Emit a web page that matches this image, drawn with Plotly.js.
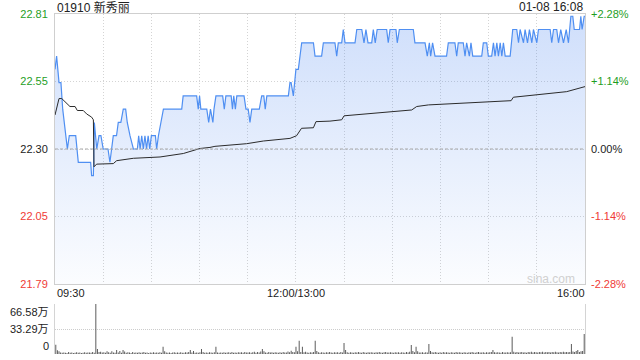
<!DOCTYPE html>
<html>
<head>
<meta charset="utf-8">
<script src="https://cdn.plot.ly/plotly-3.0.1.min.js"></script>
<style>html,body{margin:0;padding:0;background:#fff;}#chart{width:640px;height:360px;}</style>
</head>
<body>
<div id="chart"></div>
<script>
// ---- data ----
const stockTitle = "01910 新秀丽";
const stamp = "01-08 16:08";
const prevClose = 22.30;
const maxPct = 2.28;

// minute index (0 = 09:30, 150 = 12:00/13:00, 330 = 16:00) and last price
const priceMin = [0,1,2.5,3.7,4.8,6.6,7.7,8.9,12.9,14.5,22.2,22.8,23.9,24.5,26,27.4,28.6,30,33,34.2,35.2,36.3,38.3,39.4,41,42.5,44,45,46.7,48.8,51.3,52.1,53,54,55,56,57,58,59,60,62.5,63.3,64.4,65.8,67.5,78.9,79.8,88.2,89.2,90,90.8,94.5,95.7,96.8,98.3,99,100.2,104.4,105.4,106.4,109.7,110.5,111.3,112.3,113.2,117.7,118.9,120.3,121.4,122.5,127.2,128.7,130,130.9,131.9,145.3,146.3,147,148.4,150,151.5,153.6,160.9,161.9,166,167.1,174.3,175.4,176.4,178.5,179.5,180.6,186.8,187.9,191,192.4,193.6,194.9,197.2,198.2,199.4,200.6,206.5,207.5,208.6,212.3,213.1,214.4,223.1,224.1,230.4,231.8,233.1,233.9,235.1,236.6,243.8,244.9,249,250.1,251.1,254.2,255.3,256.3,258,259,260.1,265.7,266.7,268.8,269.8,271.9,273,274,275.1,276.1,277.2,278.2,279.2,280.3,283.4,285,287.5,288.6,289.6,291.7,292.7,294.2,295.4,296.9,297.9,300,301,308.3,309.3,310.4,312.4,313.5,314.9,316.6,318.3,319.7,321.2,322.4,323.3,326.6,327.4,328.2,329.5,330];
const priceVal = [22.60,22.65,22.55,22.55,22.45,22.35,22.30,22.35,22.35,22.25,22.25,22.20,22.20,22.40,22.30,22.35,22.35,22.30,22.30,22.25,22.30,22.35,22.35,22.40,22.40,22.45,22.45,22.40,22.35,22.30,22.30,22.35,22.30,22.35,22.30,22.35,22.30,22.35,22.30,22.35,22.35,22.30,22.35,22.40,22.45,22.45,22.50,22.50,22.45,22.50,22.45,22.45,22.40,22.45,22.40,22.45,22.50,22.50,22.45,22.50,22.50,22.45,22.50,22.45,22.50,22.50,22.45,22.45,22.40,22.45,22.45,22.50,22.50,22.45,22.50,22.50,22.55,22.55,22.50,22.60,22.60,22.70,22.70,22.65,22.65,22.70,22.70,22.65,22.70,22.70,22.75,22.70,22.70,22.75,22.75,22.70,22.75,22.70,22.70,22.75,22.70,22.75,22.75,22.70,22.75,22.75,22.70,22.75,22.75,22.70,22.70,22.65,22.70,22.65,22.70,22.65,22.65,22.70,22.70,22.65,22.70,22.70,22.65,22.70,22.65,22.70,22.65,22.65,22.70,22.70,22.65,22.65,22.70,22.65,22.70,22.65,22.70,22.65,22.70,22.65,22.65,22.75,22.75,22.70,22.75,22.70,22.75,22.70,22.75,22.70,22.75,22.70,22.75,22.75,22.70,22.75,22.75,22.70,22.75,22.70,22.75,22.70,22.80,22.80,22.75,22.75,22.80,22.75,22.80,22.80];

// average price line
const avgMin = [0,2.5,4.2,6.2,9.3,12.5,13.9,17.6,19.7,22.8,23.9,24.3,25.9,36.3,38.4,48.8,65.4,79.9,90.3,96.5,99.6,119.3,129.7,146.3,150.4,153.5,160.9,162.5,171.2,178.5,180,222.1,225.2,232.5,284,285.4,318.6,330];
const avgVal = [22.428,22.49,22.49,22.479,22.46,22.46,22.445,22.445,22.432,22.42,22.41,22.233,22.243,22.245,22.256,22.265,22.27,22.283,22.302,22.306,22.31,22.32,22.33,22.34,22.35,22.378,22.38,22.403,22.405,22.41,22.425,22.447,22.46,22.466,22.482,22.495,22.516,22.535];

// volume per minute (万), minutes 0..330
const volume = [
12.4,5,3.5,2,1.5,2,1.8,1.2,2.5,1.6,2,1.4,1.8,2.2,1.5,2,1.3,1.7,2.4,1.6,1.9,2.1,1.5,2.6,1.8,66.58,6.7,2.5,3,2,
2.2,1.6,3.5,2.4,1.8,3.8,2,1.5,5.3,2.1,4,1.7,5.3,3.2,1.6,2.3,1.9,1.4,2.6,1.8,2,1.5,2.2,1.7,1.9,2.8,1.6,2,1.4,2.1,
1.8,2.2,1.5,2,1.7,2.4,1.6,9.8,3.5,2,1.6,2.1,1.4,1.9,2.3,1.7,2,1.5,2.2,1.8,1.6,2.4,1.9,2.8,5.3,2,4,1.8,2.1,1.6,
2.3,6.7,2.5,1.8,2,1.6,2.2,1.9,1.5,2.4,9.8,2.1,1.7,2,1.8,2.3,1.6,1.9,2.2,1.5,2.6,1.8,2,1.7,2.4,1.9,2.2,1.6,2.8,2,
1.9,2.4,1.7,2.2,2.9,1.8,2.5,2,3.2,6.7,3.5,2,1.8,2.6,1.9,2.2,1.7,2.4,2,1.6,2.3,1.8,2.5,2.1,1.9,3.4,2.2,4.2,2.6,2.4,
9.8,3.5,17.8,2.6,9.8,2.4,3,2,1.8,2.2,1.9,2.5,17.8,4,2.2,1.8,2.4,2,1.7,2.3,1.9,2.6,2.1,1.8,2.4,2,2.2,1.7,2.5,1.9,
14.6,5.3,2.2,1.8,2.4,2,1.7,2.3,1.9,2.5,2.1,1.8,2.6,2,1.7,2.2,1.9,2.4,2.1,1.6,2.3,1.9,2.5,2,1.8,2.2,2.7,1.9,2.1,2.4,
2,1.8,2.3,1.9,2.2,1.7,2.4,2,1.8,2.6,2.1,3,12,4,2.2,9.8,3.5,2,1.9,2.3,1.8,2.4,2.1,13.3,4,2.2,1.9,2.5,2,1.7,
2.2,1.8,2.5,1.9,2.3,2,1.7,2.4,2.1,1.8,2.6,1.9,2.2,2,1.8,2.4,2.1,1.7,2.3,1.9,2.5,2,1.8,2.2,2.6,1.9,2.1,2.4,1.8,2.3,
2,2.4,2.8,5.3,2.2,1.9,2.3,2,1.8,2.5,2.1,1.9,2.4,2,2.2,23,3,2.1,2.6,1.9,2.3,2.8,2,2.4,1.8,2.6,2.2,3,2.1,2.5,
2.4,2,2.6,2.2,2.9,2.1,2.5,2.3,2.8,2,2.6,2.2,3,2.4,2.1,2.7,2.3,2.9,2.2,2.6,2.4,2.8,13.3,3.2,2.6,4,5.3,2.8,3.5,4,
26.6];

const priceTickLabels = ["22.81","22.55","22.30","22.05","21.79"];
const pctTickLabels = ["+2.28%","+1.14%","0.00%","-1.14%","-2.28%"];
const pctTickVals = [2.28,1.14,0,-1.14,-2.28];
const timeLabels = ["09:30","12:00/13:00","16:00"];
const timeLabelPos = [0,150,330];
const volTickLabels = ["66.58万","33.29万","0"];
const volTickVals = [66.58,33.29,0];
const gridMinutes = [30,60,90,120,150,180,210,240,270,300];

// ---- build ----
const GREEN = "#1f9e1f", RED = "#ef3b36", BLACK = "#222";
const FONT = "Liberation Sans, Arial, Noto Sans CJK SC, sans-serif";
const yLo = prevClose * (1 - maxPct/100), yHi = prevClose * (1 + maxPct/100);
const priceTickVals = pctTickVals.map(p => prevClose * (1 + p/100));
const colorFor = v => v > 0 ? GREEN : (v < 0 ? RED : BLACK);
const volX = volume.map((_, i) => i);

const traces = [
  {x: priceMin, y: priceVal, type: "scatter", mode: "lines", xaxis: "x", yaxis: "y",
   line: {color: "#4f8ff2", width: 1.2}, fill: "tozeroy",
   fillgradient: {type: "vertical", start: yLo, stop: yHi,
     colorscale: [[0, "rgba(70,130,240,0.02)"], [1, "rgba(70,130,240,0.26)"]]},
   hoverinfo: "skip"},
  {x: avgMin, y: avgVal, type: "scatter", mode: "lines", xaxis: "x", yaxis: "y",
   line: {color: "#2b2b2b", width: 1}, hoverinfo: "skip"},
  {x: [0, 330], y: [0, 0], type: "scatter", mode: "lines", xaxis: "x", yaxis: "y3",
   line: {width: 0}, hoverinfo: "skip"},
  {x: volX, y: volume, type: "bar", xaxis: "x2", yaxis: "y2", width: 0.6,
   marker: {color: "#555", line: {width: 0}}, hoverinfo: "skip"}
];

const PB = 6, PT = 14, H = 360;
const plotH = H - PB - PT;
const pyd = (px) => (H - PB - px) / plotH; // pixel -> paper y

const annotations = [
  {text: stockTitle, xref: "paper", yref: "paper", x: 0, y: pyd(7), xanchor: "left", yanchor: "middle",
   showarrow: false, font: {family: FONT, size: 12, color: "#222"}},
  {text: stamp, xref: "paper", yref: "paper", x: 1, y: pyd(7), xanchor: "right", yanchor: "middle",
   showarrow: false, font: {family: FONT, size: 12, color: "#222"}},
  {text: "sina.com", xref: "paper", yref: "paper", x: (577-55)/530, y: pyd(279), xanchor: "right", yanchor: "middle",
   showarrow: false, font: {family: FONT, size: 12, color: "#d0d0d0"}}
];
timeLabels.forEach((t, i) => {
  annotations.push({text: t, xref: "x", yref: "paper", x: timeLabelPos[i], y: pyd(293),
    xanchor: i === 0 ? "left" : (i === timeLabels.length - 1 ? "right" : "center"), yanchor: "middle",
    xshift: i === timeLabels.length - 1 ? 2 : 0,
    showarrow: false, font: {family: FONT, size: 11, color: "#222"}});
});
volTickLabels.forEach((t, i) => {
  annotations.push({text: t, xref: "paper", yref: "y2", x: 0, y: volTickVals[i], xshift: -4,
    xanchor: "right", yanchor: i === 0 ? "top" : (i === volTickLabels.length - 1 ? "bottom" : "middle"),
    showarrow: false, font: {family: FONT, size: 11, color: "#222"}});
});

const priceDomainBottom = pyd(284);
const volDomainTop = pyd(304);

const layout = {
  width: 640, height: 360,
  margin: {l: 55, r: 55, t: PT, b: PB, pad: 0},
  paper_bgcolor: "#fff", plot_bgcolor: "rgba(0,0,0,0)",
  showlegend: false,
  font: {family: FONT, size: 11, color: "#222"},
  xaxis: {domain: [0, 1], anchor: "y", range: [0, 330], tickvals: gridMinutes, showticklabels: false,
    ticks: "", showgrid: true, gridcolor: "#d4d4d4", griddash: "1px,2px", zeroline: false,
    showline: true, mirror: true, linecolor: "#cfcfcf", linewidth: 1, fixedrange: true},
  yaxis: {domain: [priceDomainBottom, 1], anchor: "x", range: [yLo, yHi], tickvals: priceTickVals,
    ticktext: priceTickLabels.map((t, i) => `<span style="color:${colorFor(pctTickVals[i])}">${t}</span>`),
    ticks: "", ticklabelstandoff: 4, showgrid: true, gridcolor: "#d4d4d4", griddash: "1px,2px",
    zeroline: false, showline: true, mirror: true, linecolor: "#cfcfcf", linewidth: 1,
    tickfont: {family: FONT, size: 11}, fixedrange: true},
  yaxis3: {overlaying: "y", side: "right", anchor: "x", range: [-maxPct, maxPct], tickvals: pctTickVals,
    ticktext: pctTickLabels.map((t, i) => `<span style="color:${colorFor(pctTickVals[i])}">${t}</span>`),
    ticks: "", ticklabelstandoff: 5, showgrid: false, zeroline: false, showline: false,
    tickfont: {family: FONT, size: 11}, fixedrange: true},
  xaxis2: {domain: [0, 1], anchor: "y2", range: [-0.5, 330.5], showticklabels: false, ticks: "",
    showgrid: false, zeroline: false, showline: false, fixedrange: true},
  yaxis2: {domain: [0, volDomainTop], anchor: "x2", range: [0, 66.58], tickvals: [33.29, 66.58],
    showticklabels: false, ticks: "", showgrid: true, gridcolor: "#cccccc", griddash: "1px,1px",
    zeroline: false, showline: true, mirror: true, linecolor: "#d4d4d4", linewidth: 1, fixedrange: true},
  shapes: [
    {type: "line", xref: "x", yref: "y", x0: 0, x1: 330, y0: prevClose, y1: prevClose,
     line: {color: "#a8a8a8", width: 1, dash: "3px,2px"}, layer: "above"}
  ],
  annotations: annotations
};

Plotly.newPlot("chart", traces, layout, {staticPlot: true, displayModeBar: false});
</script>
</body>
</html>
